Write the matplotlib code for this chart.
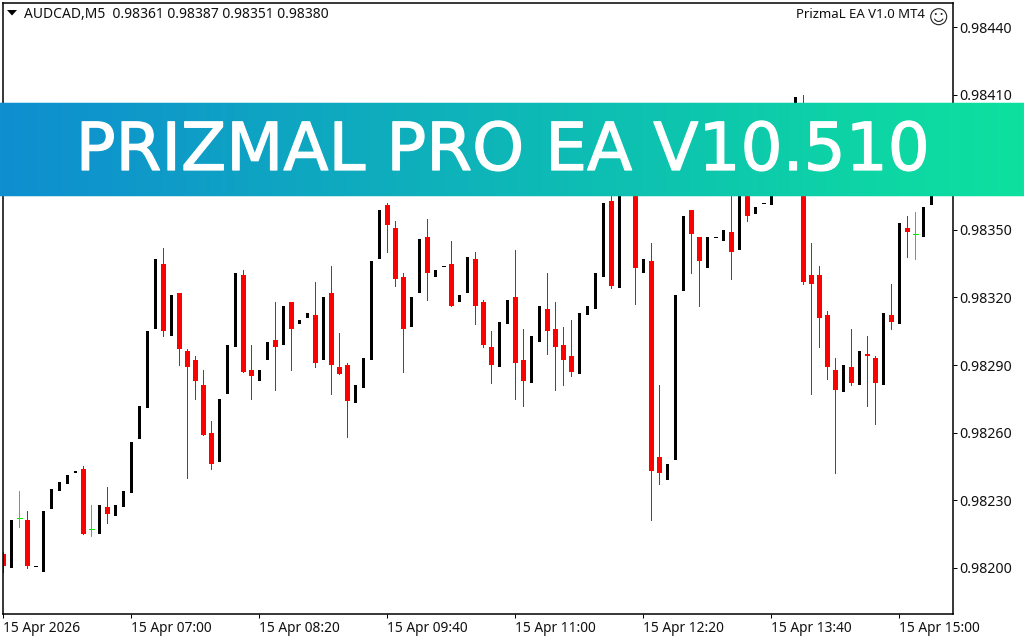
import numpy as np
import matplotlib
matplotlib.use("Agg")
import matplotlib.pyplot as plt
import matplotlib.patheffects as pe
from matplotlib.patches import Circle, Polygon, Arc
from matplotlib.transforms import IdentityTransform

BASE = 0.98200
PIP = 1e-5
opens = [6,0,22,21,1,-2,26,34,37,42,44,17,15,27,23,27,33,57,71,106,135,103,122,96,92,81,60,47,77,98,
         130,88,83,92,101,99,118,108,111,112,92,122,89,90,73,80,92,137,161,151,129,107,122,147,129,134,135,118,122,137,
         118,98,89,108,120,92,82,100,115,106,99,94,86,112,115,129,163,124,179,185,131,136,49,39,48,123,159,147,133,147,
         145,149,141,172,157,162,161,169,180,189,194,130,130,112,88,78,89,81,95,93,81,112,108,151,148,147,161]
closes = [1,21,22,1,1,25,35,38,41,43,15,17,28,24,28,34,56,72,105,137,105,121,97,89,83,59,46,75,99,131,
          87,85,88,100,98,116,106,110,113,91,120,90,86,74,81,93,136,159,152,128,106,120,146,131,132,134,116,121,138,116,
          99,90,109,119,91,83,103,116,105,98,92,87,113,116,131,162,125,174,172,133,137,43,42,46,121,156,148,136,147,147,
          150,140,174,156,160,162,170,181,190,209,127,126,111,89,79,90,82,96,94,82,113,109,153,149,148,160,180]
highs = [7,21,34,25,1,25,35,38,41,43,45,28,28,36,28,34,56,72,105,137,142,121,122,97,94,88,65,75,99,131,
         132,99,88,100,118,116,118,110,113,127,120,134,104,91,81,93,136,159,162,154,131,120,146,155,132,134,145,121,138,140,
         119,105,109,119,141,106,103,116,131,118,107,110,113,116,131,162,165,174,179,190,137,144,81,46,121,156,159,147,147,147,
         150,168,174,175,160,162,170,181,190,209,210,144,134,114,93,90,106,96,103,94,113,126,153,156,158,160,180]
lows = [-2,0,18,0,1,-2,26,34,37,42,15,14,15,20,23,27,33,57,71,106,103,103,90,40,75,59,44,47,77,98,
        87,75,83,92,79,99,88,108,111,89,92,77,86,58,73,80,92,137,140,125,87,107,122,119,129,134,116,118,122,108,
        98,82,89,108,75,72,82,100,95,79,81,85,86,112,115,129,124,124,172,117,131,21,37,39,48,123,131,116,133,147,
        145,128,141,154,157,162,161,169,180,189,126,77,98,84,42,78,81,81,72,64,81,106,108,138,137,147,161]
time_positions = [0,16,32,48,64,80,96,112]
time_labels = ["15 Apr 2026","15 Apr 07:00","15 Apr 08:20","15 Apr 09:40",
               "15 Apr 11:00","15 Apr 12:20","15 Apr 13:40","15 Apr 15:00"]
price_ticks = [0.98200,0.98230,0.98260,0.98290,0.98320,0.98350,0.98380,0.98410,0.98440]
price_labels = ["0.98200","0.98230","0.98260","0.98290","0.98320","0.98350","0.98380","0.98410","0.98440"]
header = "AUDCAD,M5  0.98361 0.98387 0.98351 0.98380"
ea_label = "PrizmaL EA V1.0 MT4"
banner_title = "PRIZMAL PRO EA V10.510"

W, H = 1024, 640
UI = "Noto Sans"
fig = plt.figure(figsize=(W/100, H/100), dpi=100, facecolor="white")
L, R, T, B = 2.5, 952.5, 2.5, 613.5
ax = fig.add_axes([L/W, 1-B/H, (R-L)/W, (B-T)/H])
PX = 8.0
ax.set_xlim((L-3.0)/PX, (R-3.0)/PX)
y0 = 567.8
scale = 2.2533
ax.set_ylim(BASE+(y0-B)/scale*PIP, BASE+(y0-T)/scale*PIP)

o = BASE+np.array(opens)*PIP
c = BASE+np.array(closes)*PIP
h = BASE+np.array(highs)*PIP
l = BASE+np.array(lows)*PIP
x = np.arange(len(o))
xb = x + 0.5/PX   # bodies sit on pixel centres; 1 px lines get snapped there from x
red = c < o
black = c > o
doji = c == o
wick = doji & (h > o)
dash = doji & ~wick
lw1 = 0.72
ax.vlines(x[red], l[red], h[red], color="#ff0000", lw=lw1, antialiased=False)
ax.bar(xb[red], (o-c)[red], bottom=c[red], width=5/PX, color="#ff0000", lw=0, antialiased=False)
ax.bar(xb[black], (c-o)[black], bottom=o[black], width=3/PX, color="black", lw=0, antialiased=False)
ax.hlines(o[dash], xb[dash]-1.5/PX, xb[dash]+1.5/PX, color="black", lw=lw1, antialiased=False)
ax.vlines(x[wick], l[wick], h[wick], color="#00ee00", lw=lw1, antialiased=False)
ax.hlines(o[wick], xb[wick]-2.5/PX, xb[wick]+2.5/PX, color="#00ee00", lw=lw1, antialiased=False)

ax.yaxis.tick_right()
ax.set_yticks(price_ticks, price_labels, fontsize=10.2, family=UI)
ax.set_xticks(time_positions, time_labels, fontsize=9.9, family=UI, ha="left")
ax.tick_params(axis="both", length=2.9, width=0.72, pad=2.2, color="black", labelcolor="#111111")
for s in ax.spines.values():
    s.set_linewidth(1.1)
    s.set_color("black")

fig.text(24/W, 1-14.5/H, header, fontsize=10, family=UI, va="center", ha="left", color="#111111")
fig.text(925/W, 1-15/H, ea_label, fontsize=9.5, family=UI, va="center", ha="right", color="#111111")

# smiley and the menu triangle, drawn in pixel coordinates
pix = IdentityTransform()
def py(v):
    return H-v
fig.add_artist(Polygon([(7, py(10)), (17, py(10)), (12, py(15.5))], closed=True, color="black", lw=0, transform=pix))
fig.add_artist(Circle((938.7, py(16.7)), 8, fill=False, ec="#222222", lw=0.8, transform=pix))
fig.add_artist(Circle((935.8, py(14)), 1.0, color="#222222", lw=0, transform=pix))
fig.add_artist(Circle((941.6, py(14)), 1.0, color="#222222", lw=0, transform=pix))
fig.add_artist(Arc((938.7, py(16.7)), 9.5, 9.5, theta1=205, theta2=335, ec="#222222", lw=0.8, transform=pix))

# banner
left_col = np.array([15, 142, 208])/255
right_col = np.array([13, 225, 158])/255
grad = np.linspace(0, 1, 512)[None, :, None]
colours = left_col + (right_col-left_col)*grad
edge = fig.add_axes([0, 1-197/H, 1, 95/H], zorder=4)
edge.axis("off")
edge.imshow(colours, aspect="auto", extent=[0, 1, 0, 1], alpha=0.25)
bx = fig.add_axes([0, 1-196/H, 1, 93/H], zorder=5)
bx.axis("off")
bx.imshow(colours, aspect="auto", extent=[0, 1, 0, 1])
bx.set_xlim(0, 1); bx.set_ylim(0, 1)
bx.text(503/W, (196-170)/93, banner_title, fontsize=47.6, family="DejaVu Sans",
        color="white", ha="center", va="baseline",
        path_effects=[pe.withStroke(linewidth=0.9, foreground="white")])

fig.savefig("out.png", dpi=100, facecolor="white")
